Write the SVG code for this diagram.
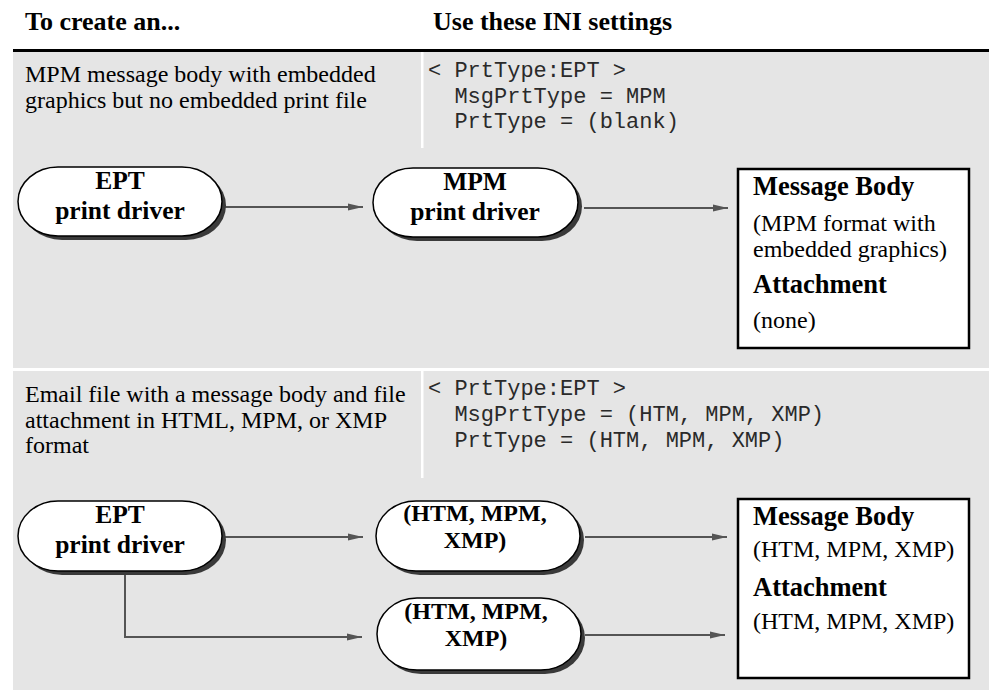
<svg xmlns="http://www.w3.org/2000/svg" width="989" height="695" viewBox="0 0 989 695">
<defs>
<style>
.hdr{font-family:"Liberation Serif","Times New Roman",serif;font-weight:bold;font-size:26px;fill:#000}
.desc{font-family:"Liberation Serif","Times New Roman",serif;font-size:24px;fill:#000}
.code{font-family:"Liberation Mono","Courier New",monospace;font-size:22px;fill:#2a2a2a}
.pill{fill:#fff;stroke:#000;stroke-width:1.5}
.shadow{fill:#3a3a3a}
.ptxt{font-family:"Liberation Serif","Times New Roman",serif;font-weight:bold;font-size:25.5px;fill:#000;text-anchor:middle}
.ptxs{font-family:"Liberation Serif","Times New Roman",serif;font-weight:bold;font-size:24px;fill:#000;text-anchor:middle}
.box{fill:#fff;stroke:#000;stroke-width:2.5}
.bb{font-family:"Liberation Serif","Times New Roman",serif;font-weight:bold;font-size:26.5px;fill:#000}
.br{font-family:"Liberation Serif","Times New Roman",serif;font-size:24px;fill:#000}
.conn{fill:none;stroke:#555;stroke-width:2}
</style>
<marker id="arr" markerWidth="16" markerHeight="10" refX="15" refY="5" orient="auto" markerUnits="userSpaceOnUse">
<path d="M0,1.5 L15,5 L0,8.5 Z" fill="#555"/>
</marker>
</defs>
<rect width="989" height="695" fill="#fff"/>
<g id="header">
<text class="hdr" x="25" y="30">To create an...</text>
<text class="hdr" x="433" y="30">Use these INI settings</text>
<rect x="13" y="49" width="976" height="3" fill="#000"/>
</g>
<g id="section1">
<rect x="13" y="52" width="976" height="316" fill="#e5e5e5"/>
<rect x="421" y="52" width="2.5" height="96" fill="#fff"/>
<text class="desc" x="25" y="82">MPM message body with embedded</text>
<text class="desc" x="25" y="107.5">graphics but no embedded print file</text>
<text class="code" x="428" y="77">&lt; PrtType:EPT &gt;</text>
<text class="code" x="428" y="102.5" xml:space="preserve">  MsgPrtType = MPM</text>
<text class="code" x="428" y="128" xml:space="preserve">  PrtType = (blank)</text>
</g>
<g id="section2">
<rect x="13" y="371" width="976" height="319" fill="#e5e5e5"/>
<rect x="421" y="371" width="2.5" height="107" fill="#fff"/>
<text class="desc" x="25" y="402">Email file with a message body and file</text>
<text class="desc" x="25" y="427.5">attachment in HTML, MPM, or XMP</text>
<text class="desc" x="25" y="453">format</text>
<text class="code" x="428" y="395">&lt; PrtType:EPT &gt;</text>
<text class="code" x="428" y="421" xml:space="preserve">  MsgPrtType = (HTM, MPM, XMP)</text>
<text class="code" x="428" y="447" xml:space="preserve">  PrtType = (HTM, MPM, XMP)</text>
</g>
<g id="connectors">
<line class="conn" x1="223" y1="207" x2="363" y2="207" marker-end="url(#arr)"/>
<line class="conn" x1="584" y1="208" x2="728" y2="208" marker-end="url(#arr)"/>
<line class="conn" x1="223" y1="537" x2="363" y2="537" marker-end="url(#arr)"/>
<polyline class="conn" points="125,571 125,637 362,637" marker-end="url(#arr)"/>
<line class="conn" x1="585" y1="537" x2="727" y2="537" marker-end="url(#arr)"/>
<line class="conn" x1="585" y1="635" x2="725" y2="635" marker-end="url(#arr)"/>
</g>
<g id="ept1">
<rect class="shadow" x="22" y="171" width="204" height="69" rx="40" ry="34.5"/>
<rect class="pill" x="18" y="167" width="204" height="69" rx="40" ry="34.5"/>
<text class="ptxt" x="120" y="189">EPT</text>
<text class="ptxt" x="120" y="219">print driver</text>
</g>
<g id="mpm1">
<rect class="shadow" x="377" y="172" width="205" height="69" rx="40" ry="34.5"/>
<rect class="pill" x="373" y="168" width="205" height="69" rx="40" ry="34.5"/>
<text class="ptxt" x="475" y="190">MPM</text>
<text class="ptxt" x="475" y="220">print driver</text>
</g>
<g id="result1">
<rect class="box" x="738" y="169" width="231" height="179"/>
<text class="bb" x="753" y="195">Message Body</text>
<text class="br" x="753" y="231">(MPM format with</text>
<text class="br" x="753" y="257">embedded graphics)</text>
<text class="bb" x="753" y="293">Attachment</text>
<text class="br" x="753" y="328">(none)</text>
</g>
<g id="ept2">
<rect class="shadow" x="22" y="505" width="204" height="70" rx="40" ry="35"/>
<rect class="pill" x="18" y="501" width="204" height="70" rx="40" ry="35"/>
<text class="ptxt" x="120" y="523">EPT</text>
<text class="ptxt" x="120" y="553">print driver</text>
</g>
<g id="htm1">
<rect class="shadow" x="380" y="505" width="204" height="70" rx="40" ry="35"/>
<rect class="pill" x="376" y="501" width="204" height="70" rx="40" ry="35"/>
<text class="ptxs" x="475" y="521">(HTM, MPM,</text>
<text class="ptxs" x="475" y="548">XMP)</text>
</g>
<g id="htm2">
<rect class="shadow" x="381" y="602" width="204" height="72" rx="40" ry="36"/>
<rect class="pill" x="377" y="598" width="204" height="72" rx="40" ry="36"/>
<text class="ptxs" x="476" y="619">(HTM, MPM,</text>
<text class="ptxs" x="476" y="646">XMP)</text>
</g>
<g id="result2">
<rect class="box" x="738" y="499" width="231" height="179"/>
<text class="bb" x="753" y="525">Message Body</text>
<text class="br" x="753" y="557">(HTM, MPM, XMP)</text>
<text class="bb" x="753" y="596">Attachment</text>
<text class="br" x="753" y="629">(HTM, MPM, XMP)</text>
</g>
</svg>
